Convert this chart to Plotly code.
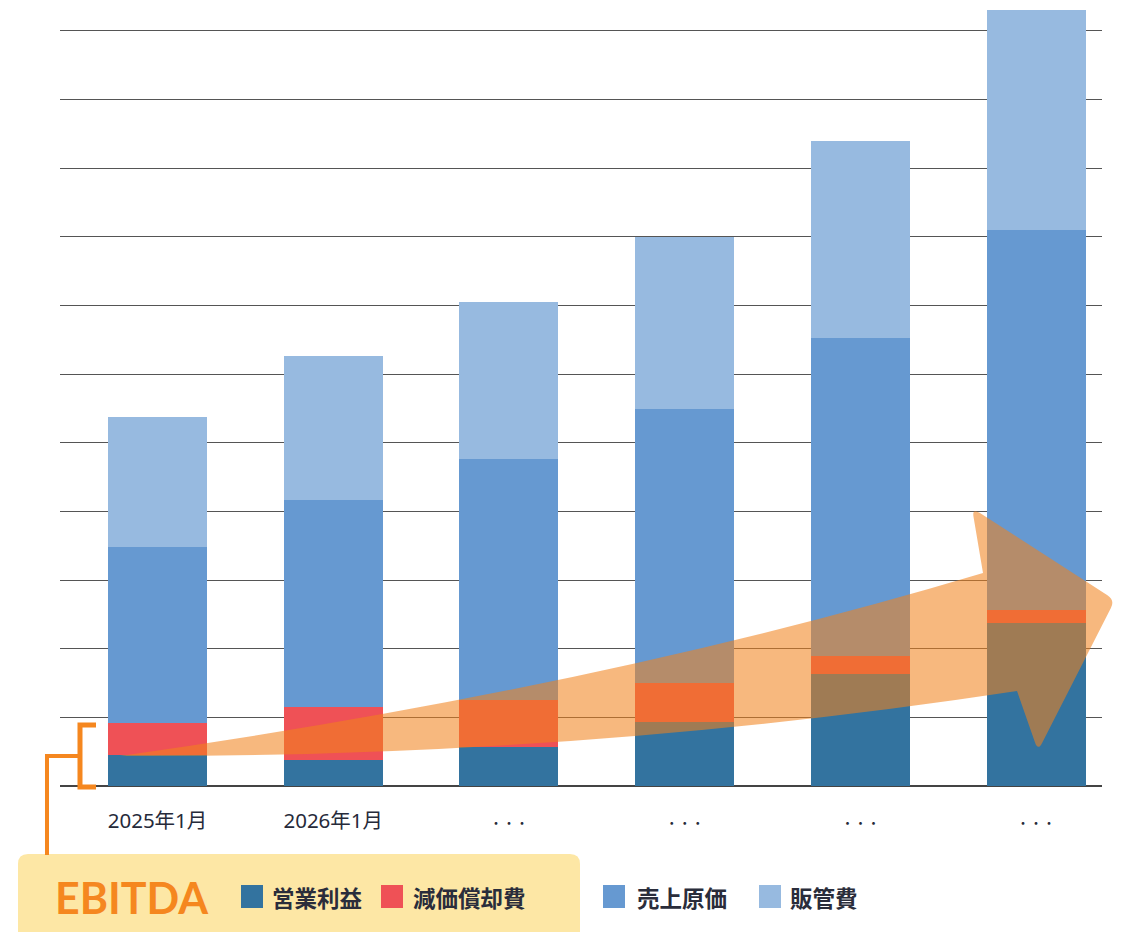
import math
import plotly.graph_objects as go

# Canvas and plot-area geometry (pixels)
W, H = 1144, 932
ML, MR, MT, MB = 60, 42, 0, 146

# ---- data -------------------------------------------------------------
periods = ["2025年1月", "2026年1月", "・・・", "・・・", "・・・", "・・・"]
operating_profit = [4.5, 3.8, 5.7, 9.3, 16.3, 23.7]   # 営業利益
depreciation = [4.7, 7.7, 6.8, 5.7, 2.6, 1.9]         # 減価償却費
cost_of_sales = [25.6, 30.2, 35.1, 39.9, 46.3, 55.4]  # 売上原価
sga = [18.9, 21.0, 22.9, 25.1, 28.8, 32.1]            # 販管費

series_names = ["営業利益", "減価償却費", "売上原価", "販管費"]
series_values = [operating_profit, depreciation, cost_of_sales, sga]
series_colors = ["#33739F", "#EF5156", "#6699D1", "#97BAE0"]

ORANGE = "#F5871F"
TEXT = "#2A2D3B"
JP_FONT = "Noto Sans CJK JP, Noto Sans, sans-serif"
TICK_FONT = "Noto Sans, Noto Sans CJK JP, sans-serif"

x_pos = list(range(len(periods)))


def tick_label(s):
    if s == "・・・":
        return '<span style="font-size:13px">・・・</span>'
    return s


fig = go.Figure()
for name, vals, col in zip(series_names, series_values, series_colors):
    fig.add_trace(go.Bar(
        x=x_pos, y=vals, name=name, marker=dict(color=col, line=dict(width=0)),
        width=0.563, showlegend=False,
    ))

PW = W - ML - MR
PH = H - MT - MB


def P(x, y):
    """pixel position -> paper coordinates"""
    return (x - ML) / PW, (H - MB - y) / PH


def pt(x, y):
    a, b = P(x, y)
    return f"{a:.5f},{b:.5f}"


def rounded_corner(prev, corner, nxt, r):
    """points before/after a rounded corner"""
    def toward(a, b):
        dx, dy = b[0] - a[0], b[1] - a[1]
        d = math.hypot(dx, dy)
        return (a[0] + dx / d * r, a[1] + dy / d * r)
    return toward(corner, prev), toward(corner, nxt)


# ---- growth arrow ---------------------------------------------------------
tail = (120, 756)
top_ctrl = (600, 688)
notch_top = (983, 573)
head_top = (972, 508)
head_tip = (1115, 600)
head_bot = (1038, 751)
notch_bot = (1017, 691)
bot_ctrl = (577, 758)

a1, b1 = rounded_corner(notch_top, head_top, head_tip, 9)
a2, b2 = rounded_corner(head_top, head_tip, head_bot, 9)
a3, b3 = rounded_corner(head_tip, head_bot, notch_bot, 9)

arrow_path = (
    f"M {pt(*tail)} Q {pt(*top_ctrl)} {pt(*notch_top)} "
    f"L {pt(*a1)} Q {pt(*head_top)} {pt(*b1)} "
    f"L {pt(*a2)} Q {pt(*head_tip)} {pt(*b2)} "
    f"L {pt(*a3)} Q {pt(*head_bot)} {pt(*b3)} "
    f"L {pt(*notch_bot)} Q {pt(*bot_ctrl)} {pt(*tail)} Z"
)

shapes = [
    dict(type="path", xref="paper", yref="paper", path=arrow_path,
         fillcolor="rgba(241,130,29,0.57)", line=dict(width=0), layer="above"),
]

# ---- legend panel -----------------------------------------------------------
bx0, by0, bx1, by1, r = 18, 854, 580, 950, 10
box_path = (
    f"M {pt(bx0 + r, by0)} L {pt(bx1 - r, by0)} Q {pt(bx1, by0)} {pt(bx1, by0 + r)} "
    f"L {pt(bx1, by1)} L {pt(bx0, by1)} L {pt(bx0, by0 + r)} Q {pt(bx0, by0)} {pt(bx0 + r, by0)} Z"
)
shapes.append(dict(type="path", xref="paper", yref="paper", path=box_path,
                   fillcolor="#FDE7A5", line=dict(width=0), layer="below"))

# EBITDA bracket and connector
shapes.append(dict(type="path", xref="paper", yref="paper",
                   path=f"M {pt(96, 725)} L {pt(80, 725)} L {pt(80, 787)} L {pt(96, 787)}",
                   line=dict(color=ORANGE, width=5)))
shapes.append(dict(type="path", xref="paper", yref="paper",
                   path=f"M {pt(80, 756)} L {pt(47, 756)} L {pt(47, 855)}",
                   line=dict(color=ORANGE, width=4)))

annotations = []
ex, ey = P(53, 897)
annotations.append(dict(xref="paper", yref="paper", x=ex, y=ey, xanchor="left", yanchor="middle",
                        text="<b>EBITDA</b>", showarrow=False,
                        font=dict(family="Lato", size=43, color=ORANGE)))

legend_slots = [(241, 270), (381, 411), (603, 635), (759, 788)]
for (sx, tx), name, col in zip(legend_slots, series_names, series_colors):
    x0, y0 = P(sx, 885)
    x1, y1 = P(sx + 22, 908)
    shapes.append(dict(type="rect", xref="paper", yref="paper", x0=x0, y0=y0, x1=x1, y1=y1,
                       fillcolor=col, line=dict(width=0)))
    tx_, ty_ = P(tx, 897)
    annotations.append(dict(xref="paper", yref="paper", x=tx_, y=ty_, xanchor="left", yanchor="middle",
                            text=f"<b>{name}</b>", showarrow=False,
                            font=dict(family=JP_FONT, size=22.5, color=TEXT)))

fig.update_layout(
    width=W, height=H,
    margin=dict(l=ML, r=MR, t=MT, b=MB, pad=0),
    barmode="stack",
    paper_bgcolor="white", plot_bgcolor="white",
    shapes=shapes, annotations=annotations,
    showlegend=False,
    xaxis=dict(
        range=[-0.555, 5.375], tickmode="array", tickvals=x_pos,
        ticktext=[tick_label(p) for p in periods],
        showgrid=False, zeroline=False, showline=False, ticks="",
        ticklabelstandoff=20,
        tickfont=dict(family=TICK_FONT, size=20.5, color="#262A3A"),
        fixedrange=True,
    ),
    yaxis=dict(
        range=[0, 114.5], tick0=0, dtick=10, showgrid=True, gridcolor="#555555", gridwidth=1,
        zeroline=True, zerolinecolor="#444444", zerolinewidth=1.5,
        showticklabels=False, ticks="", showline=False, fixedrange=True,
    ),
)

fig.write_html("out.html")
